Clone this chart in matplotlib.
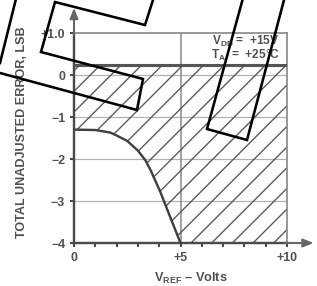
import matplotlib
matplotlib.use("Agg")
import matplotlib.pyplot as plt
from matplotlib.lines import Line2D

# curve: total unadjusted error vs reference voltage
vref = [0.0, 1.0, 1.7, 2.0, 2.5, 3.0, 3.35, 3.6, 4.05, 4.5, 5.0]
err = [-1.30, -1.31, -1.37, -1.44, -1.57, -1.80, -2.03, -2.27, -2.78, -3.36, -4.0]
upper_limit = 0.25
x_end = 10.0
y_floor = -4.0

xtick_vals = list(range(0, 11))
xtick_labels = ['0', '', '', '', '', '+5', '', '', '', '', '+10']
ytick_vals = [-4, -3, -2, -1, 0, 1]
ytick_labels = ['\u22124', '\u22123', '\u22122', '\u22121', '0', '+1.0']

plt.rcParams['font.family'] = ['Liberation Sans', 'DejaVu Sans']
plt.rcParams['mathtext.fontset'] = 'custom'
plt.rcParams['mathtext.rm'] = 'Liberation Sans'
plt.rcParams['mathtext.bf'] = 'Liberation Sans:bold'
plt.rcParams['hatch.linewidth'] = 0.8

DPI = 124
W, H = 317, 286
fig = plt.figure(figsize=(W / DPI, H / DPI), dpi=DPI)
ax = fig.add_axes([74 / W, 1 - 243 / H, 213 / W, 210 / H])

dark = '#4a4a4a'
grey = '#8a8a8a'
txt = '#505050'

# hatched region between the limit line and the curve
fill_x = vref + [x_end]
fill_lo = err + [y_floor]
ax.fill_between(fill_x, fill_lo, upper_limit, facecolor='none',
                edgecolor='#5a5a5a', linewidth=0, hatch='//', zorder=1)

# grid
for yv in [0, -1, -2, -3]:
    ax.axhline(yv, color='#b0b0b0', lw=0.7, zorder=0.5)
ax.axvline(5, color=grey, lw=0.9, zorder=0.5)
ax.axhline(upper_limit, color='#555555', lw=1.8, zorder=3)

ax.plot(vref, err, color='#404040', lw=1.4, zorder=4)

ax.set_xlim(0, 10)
ax.set_ylim(-4, 1)
for side in ['top', 'right']:
    ax.spines[side].set_color(grey)
    ax.spines[side].set_linewidth(1.0)
for side in ['left', 'bottom']:
    ax.spines[side].set_color(dark)
    ax.spines[side].set_linewidth(1.4)

ax.set_xticks(xtick_vals)
ax.set_xticklabels(xtick_labels)
ax.set_yticks(ytick_vals)
ax.set_yticklabels(ytick_labels)
ax.tick_params(direction='out', length=2.6, width=1.2, color=dark,
               labelsize=7.2, labelcolor=txt, pad=2.5)
for lab in ax.get_xticklabels() + ax.get_yticklabels():
    lab.set_fontweight('bold')

# axis arrows
ax.annotate('', xy=(0, 1.6), xytext=(0, 0.95), annotation_clip=False,
            arrowprops=dict(arrowstyle='-|>,head_length=0.5,head_width=0.2',
                            color='#666666', lw=1.2, shrinkA=0, shrinkB=0))
ax.annotate('', xy=(11.25, -4), xytext=(9.9, -4), annotation_clip=False,
            arrowprops=dict(arrowstyle='-|>,head_length=0.5,head_width=0.2',
                            color='#666666', lw=1.2, shrinkA=0, shrinkB=0))

ax.text(9.65, 0.80, r'$\mathbf{V_{DD}}$ =  +15V', ha='right', va='center',
        fontsize=6.9, color=txt, fontweight='bold')
ax.text(9.65, 0.47, r'$\mathbf{T_{A}}$  =  +25$\degree$C', ha='right', va='center',
        fontsize=6.9, color=txt, fontweight='bold')

fig.text(22 / W, 1 - 132 / H, 'TOTAL UNADJUSTED ERROR, LSB', rotation=90,
         ha='center', va='center', fontsize=7.3, fontweight='bold', color=txt)
fig.text(191 / W, 1 - 278 / H, r'$\mathbf{V_{REF}}$' + ' \u2013 Volts', ha='center',
         va='center', fontsize=7.4, fontweight='bold', color=txt)

# black outline marks drawn over the scan
marks = [
    [(15.7, 0), (0, 63)],
    [(0, 73), (137, 110), (143, 79), (41, 52), (55, 2), (145, 25), (153, 0)],
    [(242.5, 0), (207, 129), (247, 140), (284, 0)],
]
for pts in marks:
    xs = [p[0] / W for p in pts]
    ys = [1 - p[1] / H for p in pts]
    fig.add_artist(Line2D(xs, ys, color='black', lw=1.5, solid_joinstyle='miter',
                          transform=fig.transFigure, zorder=10))

fig.savefig('out.png', dpi=DPI)
